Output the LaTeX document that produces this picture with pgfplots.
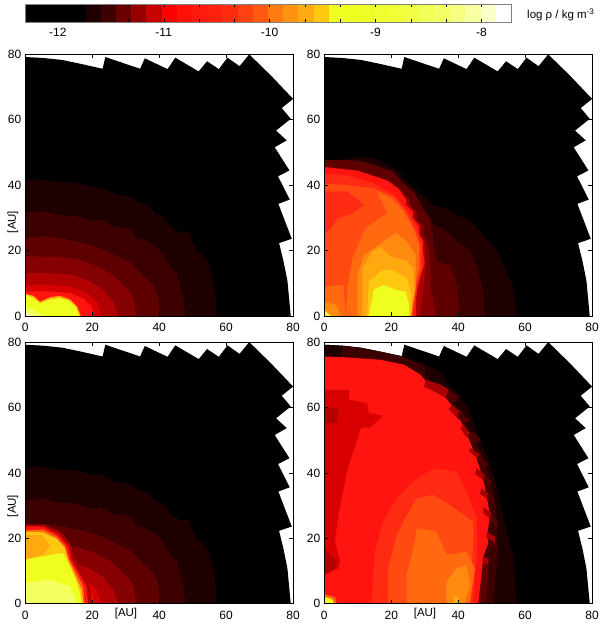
\documentclass[border=0pt]{standalone}
\usepackage{pgfplots}
\pgfplotsset{compat=1.18}
\usepackage{fontspec}
\setmainfont{Liberation Sans}
\newcommand\hexc[2]{\definecolor{#1}{HTML}{#2}}
\hexc{A}{1E0000}\hexc{B}{3C0000}\hexc{C}{5E0000}\hexc{D}{850000}\hexc{E}{B00000}\hexc{F}{D80000}\hexc{G}{FF1410}
\hexc{R2}{FF2A12}\hexc{R3}{FF4A12}\hexc{O1}{FF6A10}\hexc{O2}{FF8A10}\hexc{O3}{FFA810}\hexc{O4}{FFC810}\hexc{Y}{EEFF20}\hexc{P}{F4FF60}\hexc{W}{FFFFD0}
\hexc{Ka}{A80000}\hexc{Kb}{500000}
\newcommand\poly[2]{\addplot[fill=#1,draw=none,forget plot] coordinates {#2} -- cycle;}
\newcommand\cell[3]{\definecolor{hx#1}{HTML}{#1}\addplot[fill=hx#1,draw=none,forget plot] coordinates {(#2,0)(#3,0)(#3,1)(#2,1)} -- cycle;}
\newcommand\outline{\poly{black}{(0,0)(0,79.2)(5.4,78.9)(11,78.3)(16.6,77.1)(23.1,75.6)(23.9,79.2)(34.3,75.6)(35.7,78.8)(42.5,75.5)(44.8,79)(51.8,74.8)(54.3,77.9)(57.8,75.5)(60.4,79)(64,76.4)(66.9,80)(73.4,73.5)(80,66.4)(76.6,63.6)(79.3,60.3)(74.9,56.7)(78.1,53.7)(74.5,51.6)(78.9,44.5)(75.5,42.7)(79,35.6)(75.6,34.3)(79.6,23.6)(75.8,22.3)(77.1,16.9)(78.3,10.8)(79.3,0)}}
\newcommand\shells{%
\poly{A}{(0,0)(0,41.6)(4.4,41.8)(10.3,41)(14.8,40.8)(20.3,39.3)(22.8,39.3)(27.3,37.2)(30.7,36.7)(34.2,34.7)(36.2,34.2)(39.2,31.1)(41.2,30.6)(43.7,27)(46.2,25.4)(48.7,25.9)(51.1,19.8)(53.1,18.3)(54.6,16.2)(56.6,9)(57.3,0)}
\poly{B}{(0,0)(0,31.6)(5.4,32.1)(10.3,30.8)(15.3,30.6)(19.3,29)(22.3,29.5)(27.3,27)(30.7,27)(33.2,23.9)(36.2,22.9)(39.7,20.8)(43.2,15.2)(45.2,13.1)(47.2,5.9)(47.8,0)}
\poly{C}{(0,0)(0,23.9)(6.4,24.4)(12.3,23.4)(19.3,21.8)(23.3,20.3)(27.3,18.3)(31.7,16.2)(34.2,13.1)(38.2,9.5)(39.7,5.9)(40,0)}
\poly{D}{(0,0)(0,18.3)(5.4,18.1)(10.3,18.1)(16.3,17.2)(21.3,15.2)(25.3,13.1)(29.3,9.5)(32.2,5.9)(33.2,0)}
\poly{E}{(0,0)(0,13.1)(7.4,13.1)(14.3,12.6)(19.3,10.6)(23.3,8)(26.3,4.4)(27.8,0)}
\poly{F}{(0,0)(0,9.5)(7.4,9.5)(13.3,9)(18.3,7)(21.3,4.4)(22.8,0)}
\poly{G}{(0,0)(0,7.5)(7.4,7.5)(13.3,7)(17.3,5.4)(19.8,2.9)(20.5,0)}}
\pgfplotsset{panel/.style={scale only axis,width=267.8pt,height=261.6pt,anchor=south west,
 xmin=0,xmax=80,ymin=0,ymax=80,xtick={0,20,40,60,80},ytick={0,20,40,60,80},
 tick align=inside,major tick length=4pt,axis on top,clip=true,
 axis line style={line width=0.6pt},tick style={line width=0.6pt,black},
 tick label style={font=\fontsize{12}{12}\selectfont},
 /pgf/number format/assume math mode=true,
 xticklabel style={yshift=-4pt},yticklabel style={xshift=-0.5pt}}}
\begin{document}
\begin{tikzpicture}[x=1pt,y=1pt]
\path[use as bounding box] (0,0) rectangle (600,624);
% colour bar
\begin{axis}[scale only axis,width=486pt,height=17.5pt,at={(25pt,602pt)},anchor=south west,
 xmin=-12.31,xmax=-7.72,ymin=0,ymax=1,xtick={-12,-11,-10,-9,-8},ytick=\empty,
 minor xtick={-11.667,-11.333,-10.667,-10.333,-9.667,-9.333,-8.667,-8.333},
 tick align=inside,major tick length=2.5pt,minor tick length=2.5pt,axis on top,axis line style={line width=0.5pt,gray},
 tick style={black,line width=0.4pt},minor tick style={black,line width=0.4pt},
 tick label style={font=\fontsize{12}{12}\selectfont},/pgf/number format/assume math mode=true,
 xticklabel style={yshift=-3pt}]
\cell{000000}{-12.310}{-11.736}
\cell{1E0000}{-11.736}{-11.593}
\cell{3C0000}{-11.593}{-11.450}
\cell{6A0000}{-11.450}{-11.306}
\cell{980000}{-11.306}{-11.163}
\cell{C80000}{-11.163}{-11.019}
\cell{FF0000}{-11.019}{-10.876}
\cell{FF1008}{-10.876}{-10.733}
\cell{FF1A10}{-10.733}{-10.589}
\cell{FF2010}{-10.589}{-10.446}
\cell{FF2C10}{-10.446}{-10.302}
\cell{FF4010}{-10.302}{-10.159}
\cell{FF5A10}{-10.159}{-10.016}
\cell{FF7A10}{-10.016}{-9.872}
\cell{FF9410}{-9.872}{-9.729}
\cell{FFAA10}{-9.729}{-9.585}
\cell{FFC810}{-9.585}{-9.442}
\cell{EEFF20}{-9.442}{-9.155}
\cell{EEFF28}{-9.155}{-9.012}
\cell{F0FF30}{-9.012}{-8.868}
\cell{F0FF38}{-8.868}{-8.725}
\cell{F2FF48}{-8.725}{-8.582}
\cell{F2FF58}{-8.582}{-8.438}
\cell{F4FF68}{-8.438}{-8.295}
\cell{F6FF80}{-8.295}{-8.151}
\cell{F8FFA0}{-8.151}{-8.008}
\cell{FBFFC8}{-8.008}{-7.865}
\end{axis}
\node[anchor=west,inner sep=0pt,font=\fontsize{11.5}{12}\selectfont] at (527,609) {log ρ / kg m\textsuperscript{-3}};
% top left
\begin{axis}[panel,at={(25.3pt,308pt)}]
\outline\shells
\poly{O3}{(0,0)(0,6.8)(2.4,6.2)(4.4,4.4)(7.4,5.7)(10.3,6.2)(13.3,5.1)(15.5,2.9)(16.6,0)}
\poly{Y}{(0,0)(0,6.5)(2.2,5.7)(4.4,3.9)(7.4,5.1)(10.3,5.5)(13,4.7)(15.1,2.7)(16.2,0)}
\poly{P}{(0,0)(0,2.9)(3.4,1.3)(5.4,0)}
\poly{W}{(0,0)(0,1)(2.5,0)}
\end{axis}
% top right
\begin{axis}[panel,at={(324.3pt,308pt)}]
\outline
\poly{A}{(0,0)(0,47.8)(5.7,47.8)(10.9,48.7)(15.8,48)(21.8,44.6)(25.8,40)(29.8,36.5)(33.3,33.5)(36.5,33)(39.5,30.9)(44,28.9)(48,24.1)(51.4,20.2)(53.4,15.9)(56.4,9)(57.6,0)}
\poly{B}{(0,0)(0,47.8)(10.6,47.6)(16.6,46)(21.6,43)(25.6,38.5)(28.6,35)(31,31)(33,27.5)(35.5,26.8)(40.5,22.2)(43.5,20.2)(45.5,15.1)(47.5,8)(48,0)}
\poly{C}{(0,0)(0,47.7)(5.9,47.7)(11.9,47)(20.8,44.1)(23.3,40.6)(26.8,38)(28.8,33.9)(31.3,29.9)(32.3,25.3)(32.8,19.7)(33.8,16.6)(37.5,15.6)(39.5,10)(40.5,0)}
\poly{D}{(0,0)(0,45.7)(9.9,44.6)(18.8,41.6)(22.3,39)(25.6,35.5)(25.4,33.5)(27.8,31.9)(27.6,29.5)(29.8,27.3)(29.6,25)(31.3,21.2)(31.6,14.6)(31.8,8.5)(33.5,0)}
\poly{E}{(0,0)(0,45.6)(9.9,44.5)(18.8,41.5)(22.3,38.9)(25,35)(26.8,32)(26.8,30)(28.8,27.4)(28.7,25)(30.2,21)(30.3,15)(29.5,8)(28.6,0)}
\poly{G}{(0,0)(0,45.5)(9.9,44.4)(18.8,41.4)(22.3,38.8)(24.5,35.5)(24.3,34)(26.5,32)(26.4,30)(28.5,27.5)(28.3,25)(29.6,23)(29.5,20)(30,16)(28.5,12)(27.6,8)(27.3,0)}
\poly{R2}{(0,0)(0,43.6)(5.9,43.1)(14.8,40.6)(20.8,37)(24.8,32.4)(27.8,26.8)(29.3,21.7)(29.3,14.6)(27.8,8.5)(26.6,0)}
\poly{R3}{(0,0)(0,40.6)(6.9,40)(14.8,39)(20.8,36.5)(24.3,31.9)(27.2,26.3)(28.7,21.7)(28.7,14.6)(27.2,8.5)(26.2,0)}
\poly{R2}{(0,38)(6.9,38)(11.9,33.9)(8.4,31.4)(3.9,29.9)(1.9,26.8)(0,25.3)}
\poly{O1}{(6.4,0)(6.9,8.5)(8.4,17.6)(11.4,24.8)(12.9,27.3)(18.8,31.4)(15.8,38)(19.8,36)(23.8,31.9)(26.8,26.3)(28.3,21.7)(28.3,14.6)(26.8,8.5)(26,0)}
\poly{O1}{(0,0)(0,9)(5.7,9.5)(6.4,0)}
\poly{O2}{(9.9,0)(9.9,12.5)(11.9,18.7)(16.3,21.7)(21.3,25.3)(24.3,23.2)(27.3,18.7)(27.3,8.5)(25.9,0)}
\poly{O3}{(11.4,0)(11.4,14.6)(14.3,19.7)(16.8,21.2)(19.8,18.2)(24.3,17.1)(26.6,14.6)(27,8.5)(26,0)}
\poly{O4}{(12.8,0)(13.3,10.5)(17.3,14.1)(20.3,14.1)(24.8,11.5)(26,6.4)(25.8,0)}
\poly{Y}{(13.3,0)(14.8,8)(17.8,9.5)(21.3,8)(24.3,7.4)(25.3,3.4)(25.3,0)}
\poly{O2}{(0,0)(0,4.4)(3.4,3.4)(4.9,0)}
\poly{Y}{(0,0)(0,1.8)(2,0)}
\end{axis}
% bottom left
\begin{axis}[panel,at={(25.3pt,20.3pt)}]
\outline\shells
\poly{E}{(0,0)(0,24.2)(5.4,24.2)(10.3,22.1)(13.3,18.6)(14.3,14.5)(16.3,11.4)(18.8,7.3)(20.1,0)}
\poly{G}{(0,0)(0,23.7)(5.4,23.5)(9.9,21.1)(12.8,17.6)(13.8,13.5)(15.8,9.9)(18.3,5.3)(18.8,0)}
\poly{O1}{(0,0)(0,22.4)(5.4,22.7)(9.4,20.6)(12,17.6)(13.1,13.5)(15.3,9.4)(17.3,5.3)(17.8,0)}
\poly{O4}{(0,0)(0,22)(5.4,21.8)(9.4,19.8)(11.8,17)(12.8,13.5)(14.8,8.9)(16.8,4.3)(17.3,0)}
\poly{O3}{(0,21)(4.9,21.1)(7.4,17.6)(5.4,15)(0,13.5)}
\poly{Y}{(0,0)(0,13.5)(5.4,14.5)(11.3,15.5)(12.8,12.4)(14.8,7.9)(16.3,3.3)(16.8,0)}
\poly{P}{(0,0)(0,6.3)(7.4,7.3)(13.3,5.3)(15.5,0)}
\end{axis}
% bottom right
\begin{axis}[panel,at={(324.3pt,20.3pt)}]
\outline
\poly{A}{(0,0)(0,79.2)(5.4,78.9)(11,78.2)(16.6,77.1)(23.1,75.7)(29.6,73.3)(35.8,70.5)(36.5,67.5)(40.2,64)(43.7,58.5)(45.5,53)(47,49)(49,44)(51,37.8)(52.5,30.7)(54.5,22.5)(56.5,14.4)(57.5,0)}
\poly{B}{(0,0)(0,75.6)(5.4,75.5)(5.4,78.9)(11,78.2)(16.6,77.1)(23.1,75.7)(29.5,72.8)(30.5,69.5)(36,63)(39,60.5)(41.5,57)(43,53)(45.5,49)(47.5,44.5)(49,40)(50.5,34)(51.5,28)(51.5,22)(52,15)(51,7)(50.6,0)}
\poly{C}{(46,0)(46.5,10)(47.5,14.4)(49,14)(49,9)(48,0)}
\poly{G}{(0,0)(0,75.6)(5.4,75.4)(16.8,74.6)(23.8,73.1)(28.8,70)(30.3,68)(34.8,65)(38.2,60.5)(41.2,55)(43.7,49.1)(45.5,44.4)(47.5,38)(48.5,33)(49.5,27)(48.8,22)(49,18.4)(47.5,14.4)(47,9.3)(46,0)}
\poly{Ka}{(30.3,68.5)(34.8,67)(33.8,64.4)(29.8,66.4)}
\poly{Ka}{(34.8,67)(37.2,65.4)(36.3,62.9)(33.8,64.4)}
\poly{Kb}{(37.2,65.4)(40.2,63.4)(38.7,61.3)(36.3,62.9)}
\poly{Ka}{(38.2,60.8)(41.2,58.3)(39.7,56.8)(37.2,59.5)}
\poly{Kb}{(40.2,58.8)(43.6,56.2)(42.2,55.2)(39.7,56.8)}
\poly{Ka}{(41.7,54.7)(44.2,51.2)(42.2,51.2)(40.7,53.7)}
\poly{Kb}{(44.2,52.7)(46.7,50.1)(44.7,49.1)(42.7,51.2)}
\poly{Ka}{(43.7,47.6)(46.7,45.5)(45.7,44.5)(43.2,46.6)}
\poly{Kb}{(46.2,45.5)(49,42.9)(48,41.4)(45.7,44.5)}
\poly{Ka}{(45.5,41.4)(48,39.3)(47.5,37.8)(45,39.8)}
\poly{Kb}{(48,39.3)(50,37.3)(49.5,35.8)(47.5,37.8)}
\poly{Ka}{(47,35.3)(49,33.7)(48.5,32.2)(46.5,33.7)}
\poly{Kb}{(49,33.7)(51,31.7)(50.5,30.2)(48.5,32.2)}
\poly{Ka}{(47.5,29.6)(50,27.6)(49.5,26.1)(47.5,27.6)}
\poly{Kb}{(50,27.6)(52,24.5)(51.5,23)(49.5,26.1)}
\poly{Ka}{(48.5,22)(51,20.5)(51,18.4)(48.5,20)}
\poly{Kb}{(49,20)(52,17.9)(51.5,16.9)(49,17.9)}
\poly{Ka}{(47.5,14.4)(49,13.9)(49,11.8)(47.5,12.3)}
\poly{F}{(0,62.9)(7.4,62.4)(12.8,61.3)(13.3,58.3)(17.6,57.5)(13.8,54)(10.9,53.7)(9,47.6)(6.9,41)(4.2,27.1)(3.2,19)(4.7,12.9)(4.2,10.8)(0,8.8)}
\poly{E}{(0,59.8)(4.2,59.8)(3.7,55.2)(0,55.2)}
\poly{E}{(0,17)(3.7,12.9)(3.2,10.8)(0,8.8)}
\poly{F}{(0,65.4)(7.4,65.4)(7.4,62.4)(0,62.9)}
\poly{R2}{(14.1,0)(15.1,15.9)(17.6,25.1)(21.6,32.2)(26.6,37.3)(32.5,41.4)(39.5,40.4)(42.5,34.3)(45.5,26.1)(45.5,15.9)(44.5,0)}
\poly{R3}{(19.1,0)(19.1,10.8)(21.6,21)(24.6,27.1)(27.6,32.2)(32.5,33.3)(37.5,30.2)(44.5,25.1)(44.5,19)(43.5,0)}
\poly{O1}{(24.6,0)(24.6,8.8)(27.1,19)(27.6,23.1)(33.5,22)(36.5,14.9)(42.5,15.9)(45,10.8)(43.5,0)}
\poly{O2}{(36.5,0)(36.5,6.7)(39.5,10.8)(42.5,11.8)(43.5,5.7)(42,0)}
\poly{O3}{(38.6,0)(38.6,2)(40,2)(40.3,0)}
\poly{O1}{(0,0)(0,2.9)(3.2,2)(3.7,0)}
\poly{Y}{(0,0)(0,2)(2.2,1.5)(3,0)}
\end{axis}
% axis names
\node[rotate=90,inner sep=0pt,font=\fontsize{11.5}{12}\selectfont] at (13,402) {[AU]};
\node[rotate=90,inner sep=0pt,font=\fontsize{11.5}{12}\selectfont] at (13,118) {[AU]};
\node[inner sep=0pt,font=\fontsize{11.5}{12}\selectfont] at (126,10) {[AU]};
\node[inner sep=0pt,font=\fontsize{11.5}{12}\selectfont] at (425,10) {[AU]};
\end{tikzpicture}
\end{document}
